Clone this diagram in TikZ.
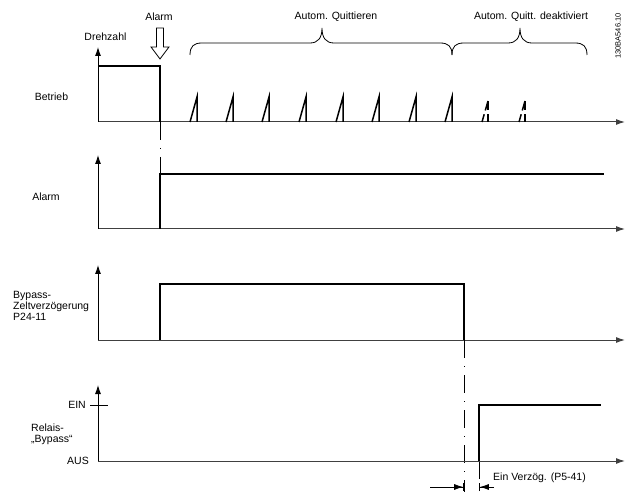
\documentclass[tikz,border=0pt]{standalone}
\usepackage{fontspec}
\setmainfont{Liberation Sans}
\usetikzlibrary{arrows.meta}
\begin{document}
\begin{tikzpicture}[x=1pt,y=-1pt,
  lbl/.style={inner sep=0pt,font=\fontsize{10.5}{12.5}\selectfont},
  axis/.style={line width=0.9pt,-{Latex[length=9pt,width=6pt]}},
  base/.style={line width=1pt,black!75,-{Latex[length=9pt,width=6pt]}},
  sig/.style={line width=1.1pt},
  spike/.style={line width=1.5pt},
  dspike/.style={line width=1.5pt,dash pattern=on 8pt off 4pt on 12pt},
  guide/.style={line width=0.8pt,dash pattern=on 18pt off 8pt on 1pt off 8pt},
  dim/.style={line width=0.8pt,-{Latex[length=9pt,width=6pt,sep=0pt]Bar[width=8pt,line width=0.8pt]}}]
\useasboundingbox (0,0) rectangle (630,492);
% ---------- Panel 1 ----------
\draw[base] (98,122) -- (625,122);
\draw[axis] (98,122) -- (98,47);
\node[lbl] (drehzahl) at (105.5,36.5) {Drehzahl};
\node[lbl] (betrieb) at (51.5,97) {Betrieb};
\draw[sig] (98,66) -- (160,66) -- (160,122);
\node[lbl] (alarmtop) at (159,17) {Alarm};
\draw[line width=0.8pt] (156.5,28) -- (163.5,28) -- (163.5,47) -- (169,47) -- (160,59) -- (151,47) -- (156.5,47) -- cycle;
% spikes
\foreach \x in {197,233,269,306,343,379,416,452}{
  \draw[spike] (\x-7,122) -- (\x,97) -- (\x,122);
}
\foreach \x in {488,525}{
  \draw[dspike] (\x-6,122) -- (\x,101);
  \draw[dspike] (\x,122) -- (\x,101);
}
% braces
\draw[line width=0.8pt] (190,55) .. controls (190,46) and (194,43) .. (202,43) -- (310,43)
  .. controls (318,43) and (322,38) .. (322,28)
  .. controls (322,38) and (326,43) .. (334,43) -- (440,43)
  .. controls (448,43) and (452,46) .. (452,55);
\draw[line width=0.8pt] (452,55) .. controls (452,46) and (456,43) .. (464,43) -- (508,43)
  .. controls (516,43) and (520,38) .. (520,28)
  .. controls (520,38) and (524,43) .. (532,43) -- (575,43)
  .. controls (583,43) and (587,46) .. (587,55);
\node[lbl] (quitt) at (336,17) {Autom. Quittieren};
\node[lbl] (deakt) at (531,17) {Autom. Quitt. deaktiviert};
\node[inner sep=0pt,rotate=90,font=\fontsize{7.5}{9}\selectfont] (code) at (618,36) {130BA546.10};
% ---------- Panel 2 ----------
\draw[guide] (160,122) -- (160,174);
\draw[base] (98,229) -- (625,229);
\draw[axis] (98,229) -- (98,155);
\node[lbl] (alarm2) at (46,197) {Alarm};
\draw[sig] (160,229) -- (160,174) -- (604,174);
% ---------- Panel 3 ----------
\draw[base] (98,340) -- (625,340);
\draw[axis] (98,340) -- (98,265);
\node[lbl,anchor=west,align=left] (bypass) at (13,305.5) {Bypass-\\[-1.5pt]Zeltverzögerung\\[-1.5pt]P24-11};
\draw[sig] (160,340) -- (160,284) -- (464,284) -- (464,340);
% ---------- Panel 4 ----------
\draw[guide] (464,340) -- (464,492);
\draw[guide] (479,461) -- (479,492);
\draw[base] (98,461) -- (625,461);
\draw[axis] (98,461) -- (98,385);
\draw[line width=0.8pt] (90,405) -- (108,405);
\node[lbl,anchor=east] (ein) at (86,405) {EIN};
\node[lbl,anchor=east] (aus) at (89,461) {AUS};
\node[lbl,anchor=west,align=left] (relais) at (31,434.5) {Relais-\\[-1.5pt]„Bypass“};
\draw[sig] (479,461) -- (479,405) -- (601,405);
% dimension arrows
\coordinate (dl) at (430,487);
\coordinate (dr) at (494,487);
\draw[dim] (dl) -- (464,487);
\draw[dim] (dr) -- (479,487);
\node[lbl,anchor=west] (verz) at (493,478) {Ein Verzög. (P5-41)};
\end{tikzpicture}
\end{document}
